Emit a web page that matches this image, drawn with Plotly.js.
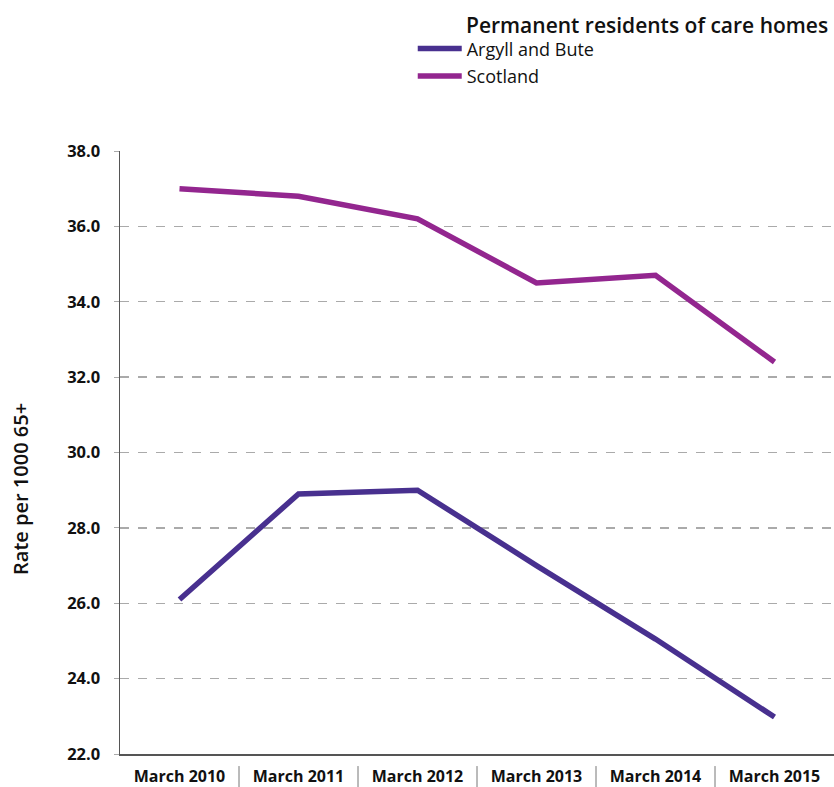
<!DOCTYPE html>
<html>
<head>
<meta charset="utf-8">
<script src="https://cdn.plot.ly/plotly-3.0.1.min.js"></script>
<style>html,body{margin:0;padding:0;background:#fff;}#chart{width:834px;height:787px;}</style>
</head>
<body>
<div id="chart"></div>
<script>
const categories = ["March 2010", "March 2011", "March 2012", "March 2013", "March 2014", "March 2015"];
const argyllAndBute = [26.1, 28.9, 29.0, 27.0, 25.05, 22.98];
const scotland = [37.0, 36.8, 36.2, 34.5, 34.7, 32.4];
const yTickValues = [22, 24, 26, 28, 30, 32, 34, 36, 38];
const seriesNames = ["Argyll and Bute", "Scotland"];
const legendTitle = "Permanent residents of care homes";
const yTitle = "Rate per 1000 65+";

const FONT = "'Open Sans', Lato, sans-serif";

const traces = [
  {x: categories, y: argyllAndBute, name: seriesNames[0], legendgroup: "a", type: "scatter", mode: "lines",
   line: {color: "#48308f", width: 5.5}},
  {x: categories, y: scotland, name: seriesNames[1], legendgroup: "b", type: "scatter", mode: "lines",
   line: {color: "#93268f", width: 5.5}}
];

const separators = categories.slice(0, -1).map((c, i) => ({
  type: "line", xref: "x", yref: "paper", x0: i + 0.5, x1: i + 0.5, y0: -0.02, y1: -0.056,
  line: {color: "#777", width: 1}
}));

const layout = {
  width: 834, height: 787,
  margin: {l: 120, r: 0, t: 151, b: 33},
  paper_bgcolor: "#fff", plot_bgcolor: "#fff",
  font: {family: FONT, color: "#111"},
  showlegend: true,
  legend: {x: 0.41, xanchor: "left", y: 1.2, yanchor: "top", font: {size: 18, family: FONT, color: "#111"},
           tracegroupgap: 1, itemwidth: 44, bgcolor: "rgba(0,0,0,0)"},
  xaxis: {
    type: "category", showgrid: false, showline: true, linecolor: "#555", linewidth: 1.5,
    ticks: "", tickfont: {size: 16, family: FONT, weight: 700, color: "#111"},
    ticklabelstandoff: 7, range: [-0.5, 5.5], fixedrange: true
  },
  yaxis: {
    range: [22, 38], tickvals: yTickValues, tickformat: ".1f",
    showgrid: true, gridcolor: "#aaa", griddash: "dash", gridwidth: 1.3,
    showline: true, linecolor: "#555", linewidth: 1.5, zeroline: false,
    ticks: "outside", ticklen: 5, tickcolor: "#aaa",
    tickfont: {size: 16.5, family: FONT, weight: 700, color: "#111"},
    ticklabelstandoff: 10
  },
  shapes: separators,
  annotations: [
    {text: legendTitle, xref: "paper", yref: "paper", x: 0.482, xanchor: "left", y: 1.209, yanchor: "middle",
     showarrow: false, font: {size: 21, family: FONT, weight: 600, color: "#111"}},
    {text: yTitle, xref: "paper", yref: "paper", x: -0.1387, xanchor: "center", y: 0.4395, yanchor: "middle",
     textangle: -90, showarrow: false, font: {size: 20, family: FONT, weight: 600, color: "#111"}}
  ]
};

Plotly.newPlot("chart", traces, layout, {displayModeBar: false, staticPlot: true});
</script>
</body>
</html>
